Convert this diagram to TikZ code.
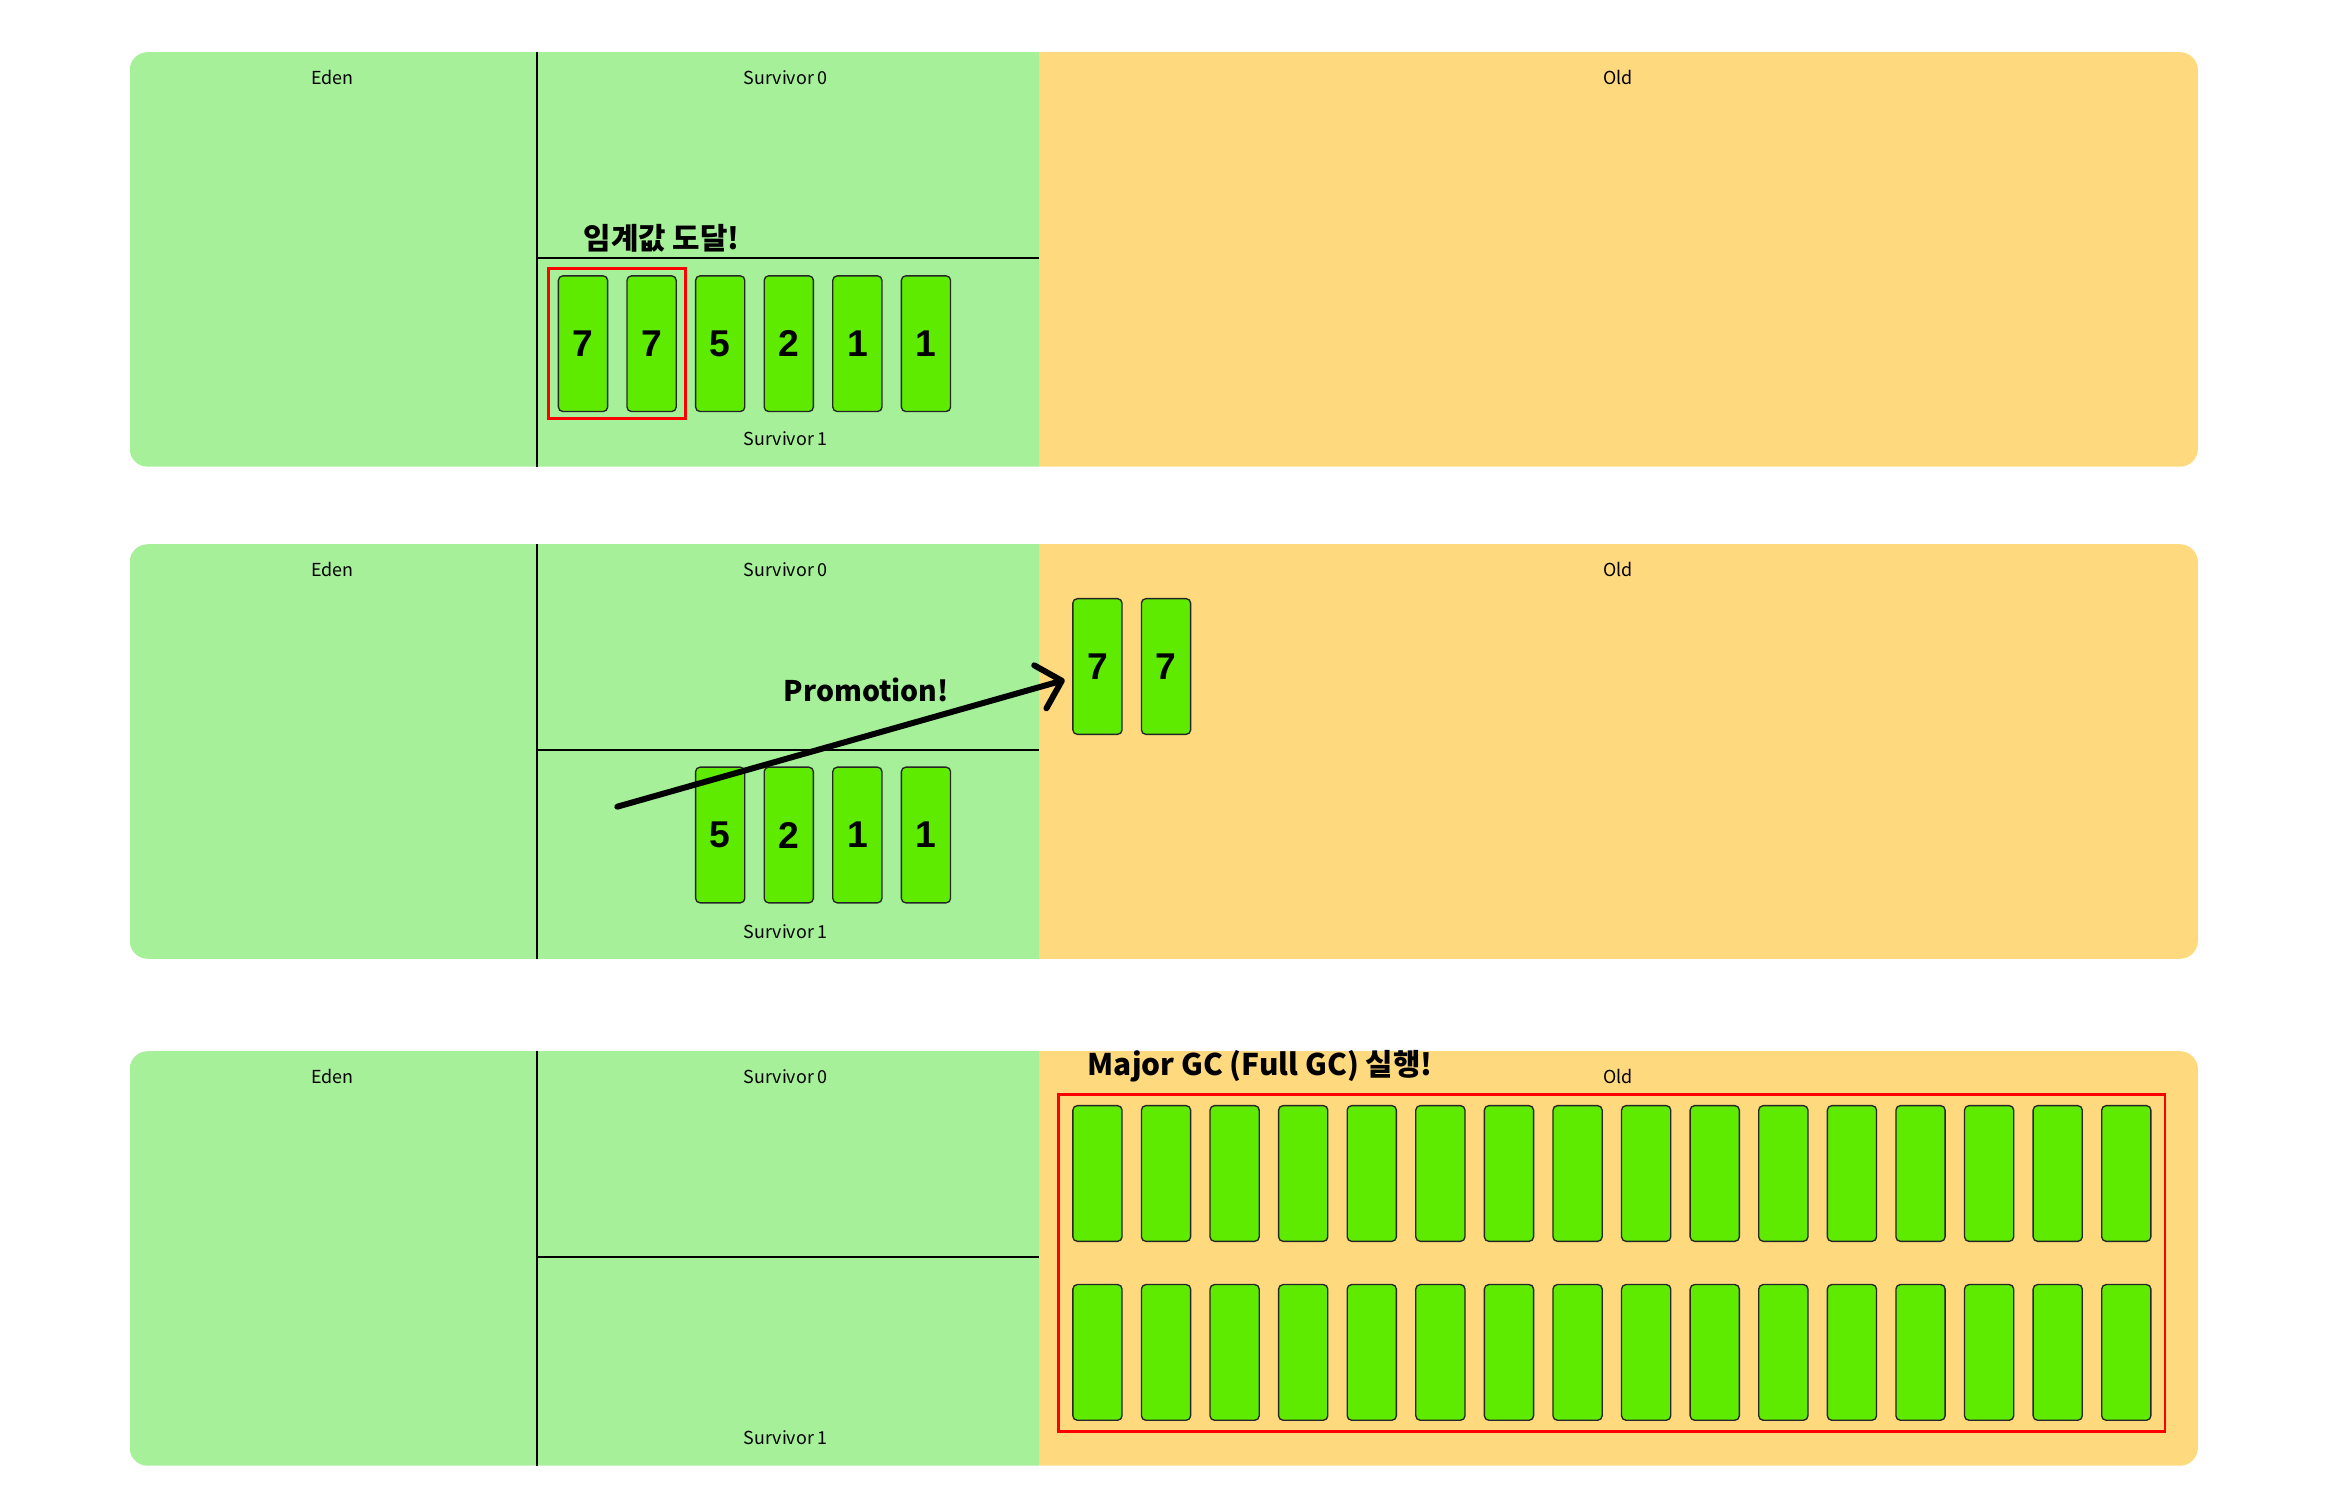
\documentclass[tikz,border=0pt]{standalone}
\usepackage{fontspec}
\setmainfont{Noto Sans CJK KR}
\newfontfamily\digitfont{Liberation Sans}
\usetikzlibrary{arrows.meta,fit}
\definecolor{edengreen}{HTML}{A6F09A}
\definecolor{oldorange}{HTML}{FFD97E}
\definecolor{objgreen}{HTML}{5EEB00}
\definecolor{markred}{HTML}{FF0000}

\begin{document}
\begin{tikzpicture}[x=1pt,y=-1pt,
  obj/.style={draw=black!85, line width=.9pt, fill=objgreen, rounded corners=3pt,
    minimum width=33pt, minimum height=91pt, inner sep=0pt,
    font=\digitfont\fontsize{25}{25}\selectfont\bfseries},
  area/.style={font=\fontsize{12}{14}\selectfont},
  note/.style={font=\fontsize{20}{22}\selectfont\bfseries},
  redframe/.style={draw=markred, line width=2pt, inner sep=0pt},
  wall/.style={line width=1.5pt}]
\useasboundingbox (0,0) rectangle (1568,1014);

% heap panels
\foreach \t/\i in {35/1,365/2,705/3}{
  \begin{scope}
    \clip[rounded corners=12pt] (87,\t) rectangle (1474,\t+278);
    \fill[edengreen] (87,\t) rectangle (697,\t+278);
    \fill[oldorange] (697,\t) rectangle (1474,\t+278);
  \end{scope}
  \draw[wall] (360,\t) -- (360,\t+278);
  \draw[wall] (360,\t+138) -- (697,\t+138);
  \node[area] (eden\i) at (223,\t+17) {Eden};
  \node[area] (sz\i) at (527,\t+17) {Survivor 0};
  \node[area] (old\i) at (1085,\t+17) {Old};
  \node[area] (so\i) at (527,\t+259.5) {Survivor 1};
}

% 1: threshold
\foreach \v [count=\i] in {7,7,5,2,1,1}
  \node[obj] (a\i) at (345+46*\i,230.5) {\v};
\node[redframe, fit=(a1)(a2), inner xsep=6pt, inner ysep=4.5pt] (thr) {};
\node[note, anchor=west] (thrtext) at (388,160) {임계값 도달!};

% 2: promotion
\foreach \v [count=\i] in {5,2,1,1}
  \node[obj] (b\i) at (437+46*\i,560) {\v};
\node[obj] (o1) at (736,447) {7};
\node[obj] (o2) at (782,447) {7};
\node[note, font=\fontsize{19}{22}\selectfont\bfseries] (promo) at (581,463) {Promotion!};
\coordinate (pstart) at (414,541);
\draw[line width=4pt, line cap=round, -{Straight Barb[length=15pt,width=30pt,round]}]
  (pstart) -- ([shift={(-5pt,-9pt)}]o1.west);

% 3: full gc
\foreach \i in {1,...,16}{
  \node[obj] (c\i) at (690+46*\i,787) {};
  \node[obj] (d\i) at (690+46*\i,907) {};
}
\node[redframe, fit=(c1)(d16), inner xsep=9pt, inner ysep=7pt] (full) {};
\node[note, anchor=west] (gc) at (726,715) {Major GC (Full GC) 실행!};
\end{tikzpicture}
\end{document}
